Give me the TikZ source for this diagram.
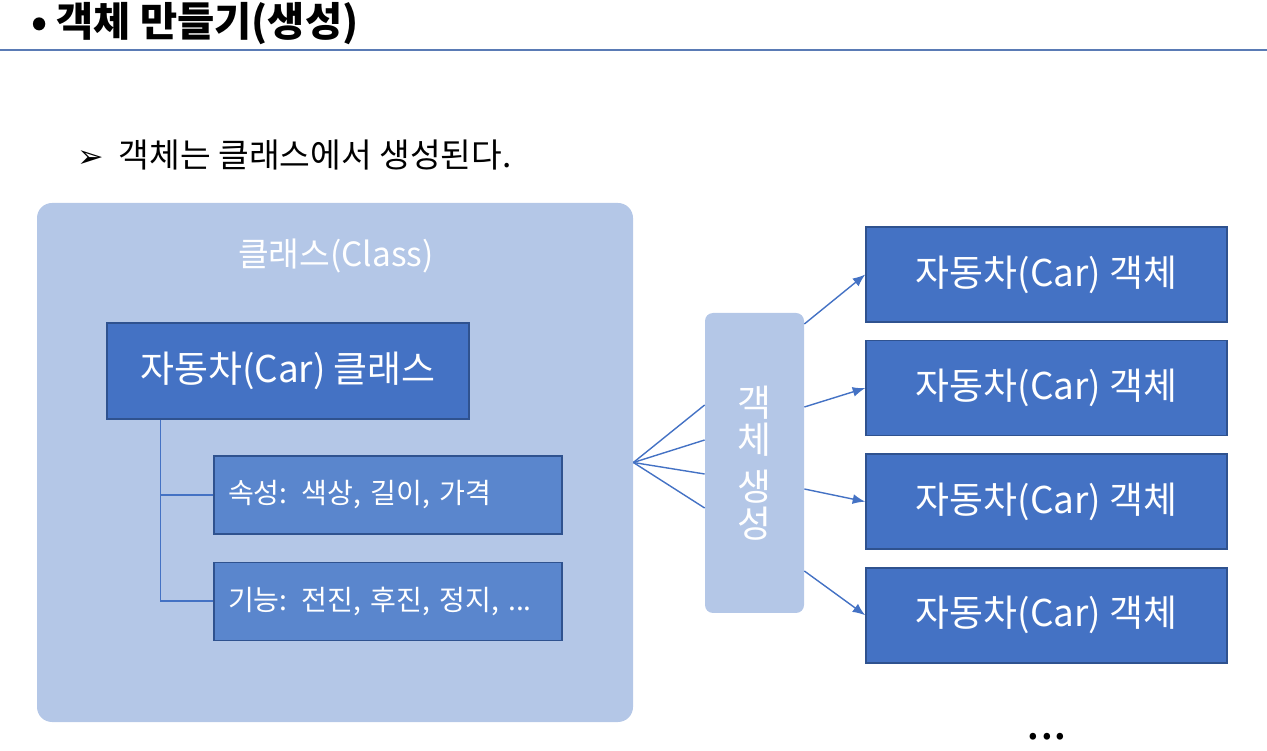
\documentclass[tikz,border=0pt]{standalone}
\usepackage{fontspec}
\setmainfont{Noto Sans CJK KR}
\newfontfamily\dingfont{DejaVu Sans}
\usetikzlibrary{arrows.meta, positioning, calc}
\definecolor{panelblue}{HTML}{B4C7E7}
\definecolor{boxblue}{HTML}{4472C4}
\definecolor{edgeblue}{HTML}{2F528F}
\definecolor{itemblue}{HTML}{5A86CD}
\definecolor{ruleblue}{HTML}{5A7BB5}

\begin{document}
\begin{tikzpicture}[
	node distance=0.34cm and 0em,
	panel/.style={rectangle, fill=panelblue, inner sep=0pt},
	carbox/.style={rectangle, draw=edgeblue, line width=0.9pt, fill=boxblue, text=white,
		inner sep=0pt, minimum width=7.22cm, minimum height=1.9cm, font=\fontsize{21pt}{24pt}\selectfont},
	item/.style={rectangle, draw=edgeblue, line width=0.6pt, fill=itemblue, text=white,
		text width=6.4cm, inner xsep=0.28cm, minimum height=1.56cm, align=left,
		font=\fontsize{16pt}{19pt}\selectfont},
	line/.style={draw=boxblue, line width=0.8pt},
	]
	\useasboundingbox (0,0) rectangle (25.34,-15.02);

	% heading
	\node [anchor=west, font=\fontsize{23pt}{27pt}\selectfont\bfseries] (title) at (0.5,-0.48) {• 객체 만들기(생성)};
	\coordinate (rl) at (0,-1.0);
	\coordinate (rr) at (25.34,-1.0);
	\draw [ruleblue, line width=1.2pt] (rl) -- (rr);
	\node [anchor=west, font=\fontsize{19pt}{22pt}\selectfont] (lead) at (1.42,-3.1)
		{{\dingfont\fontsize{18pt}{20pt}\selectfont ➢}\hspace{0.3cm}객체는 클래스에서 생성된다.};

	% class side
	\node [panel, rounded corners=0.3cm, minimum width=11.92cm, minimum height=10.38cm] (cls) at (6.70,-9.25) {};
	\node [text=white, font=\fontsize{19pt}{22pt}\selectfont] (clsname) at (6.72,-5.12) {클래스(Class)};
	\node [carbox, minimum width=7.24cm, minimum height=1.92cm] (car) at (5.76,-7.42) {자동차(Car) 클래스};
	\node [item] (attr) at (7.76,-9.90) {속성: 색상, 길이, 가격};
	\node [item, below=0.54cm of attr] (func) {기능: 전진, 후진, 정지, ...};
	\coordinate [right=1.08cm of car.south west] (stem);
	\path [line] (stem) |- (attr.west);
	\path [line] (stem) |- (func.west);

	% object creation
	\node [panel, rounded corners=0.16cm, minimum width=1.98cm, minimum height=6cm, text=white,
		align=center, font=\fontsize{21pt}{21pt}\selectfont] (gen) at (15.09,-9.26) {객\\체\\[0.2cm]생\\성};
	\foreach \dy in {1.16, 0.46, -0.22, -0.90}
		\path [line] (cls.east) -- ($(gen.west)+(0,\dy)$);

	\node [carbox] (obj1) at (20.93,-5.49) {자동차(Car) 객체};
	\node [carbox, below=of obj1] (obj2) {자동차(Car) 객체};
	\node [carbox, below=of obj2] (obj3) {자동차(Car) 객체};
	\node [carbox, below=of obj3] (obj4) {자동차(Car) 객체};
	\node [anchor=base, font=\fontsize{28pt}{30pt}\selectfont] (more) at (20.94,-14.78) {...};

	\foreach \dy/\k in {2.78/1, 1.12/2, -0.52/3, -2.16/4}
		\path [line, -{Latex[length=0.25cm, width=0.2cm]}] ($(gen.east)+(0,\dy)$) -- (obj\k.west);
\end{tikzpicture}
\end{document}
